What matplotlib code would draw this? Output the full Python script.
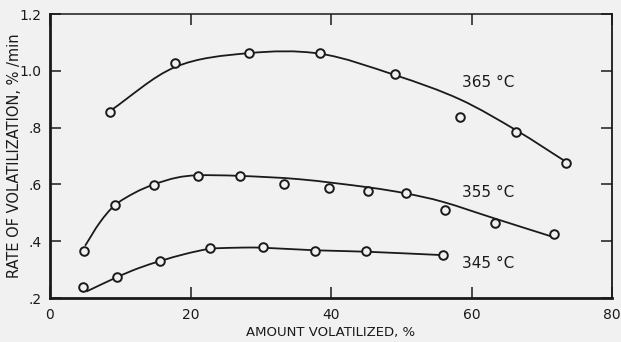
import matplotlib
matplotlib.use("Agg")
import matplotlib.pyplot as plt
from matplotlib.path import Path
from matplotlib.patches import PathPatch
import numpy as np

# Measured data points (amount volatilized %, rate %/min)
x_365 = [8.5, 17.8, 28.3, 38.5, 49.1, 58.3, 66.4, 73.5]
y_365 = [0.856, 1.029, 1.062, 1.061, 0.987, 0.837, 0.786, 0.677]

x_355 = [4.9, 9.3, 14.8, 21.1, 27.1, 33.3, 39.7, 45.2, 50.7, 56.2, 63.3, 71.8]
y_355 = [0.366, 0.527, 0.597, 0.629, 0.629, 0.601, 0.586, 0.577, 0.571, 0.509, 0.463, 0.427]

x_345 = [4.7, 9.5, 15.7, 22.8, 30.3, 37.7, 45.0, 55.9]
y_345 = [0.239, 0.273, 0.329, 0.375, 0.378, 0.366, 0.365, 0.351]

# Hand-drawn smooth curves: knots
cx_365 = [8.5, 17.8, 28.2, 38.5, 49.1, 58.3, 66.4, 73.3]
cy_365 = [0.858, 1.013, 1.062, 1.060, 0.985, 0.900, 0.790, 0.682]

cx_355 = [5.0, 7.1, 9.25, 12.1, 14.8, 18.0, 21.1, 27.0, 35.6, 45.2, 50.7, 56.0, 63.3, 71.6]
cy_355 = [0.384, 0.466, 0.527, 0.571, 0.600, 0.6235, 0.632, 0.630, 0.618, 0.590, 0.568, 0.538, 0.480, 0.415]

cx_345 = [5.2, 9.5, 12.6, 15.8, 19.4, 22.8, 26.5, 30.3, 37.7, 45.0, 55.9]
cy_345 = [0.223, 0.273, 0.305, 0.331, 0.356, 0.373, 0.377, 0.377, 0.368, 0.363, 0.351]

series_labels = ["365 °C", "355 °C", "345 °C"]
label_x = [58.6, 58.7, 58.7]
label_y = [0.958, 0.571, 0.322]

x_ticks = [0, 20, 40, 60, 80]
x_ticklabels = ["0", "20", "40", "60", "80"]
y_ticks = [0.2, 0.4, 0.6, 0.8, 1.0, 1.2]
y_ticklabels = [".2", ".4", ".6", ".8", "1.0", "1.2"]

bg = "#f1f1f1"
ink = "#1a1a1a"


def smooth_path(xs, ys):
    """Catmull-Rom curve through the knots, expressed as cubic Bezier segments."""
    p = np.column_stack([xs, ys]).astype(float)
    ext = np.vstack([2 * p[0] - p[1], p, 2 * p[-1] - p[-2]])
    verts = [p[0]]
    codes = [Path.MOVETO]
    for i in range(1, len(ext) - 2):
        p0, p1, p2, p3 = ext[i - 1], ext[i], ext[i + 1], ext[i + 2]
        verts += [p1 + (p2 - p0) / 6.0, p2 - (p3 - p1) / 6.0, p2]
        codes += [Path.CURVE4] * 3
    return Path(verts, codes)


fig = plt.figure(figsize=(6.21, 3.42), dpi=100, facecolor=bg)
ax = fig.add_axes([50 / 621, 44 / 342, 562 / 621, 284 / 342])
ax.set_facecolor(bg)

for cx, cy, px, py in [(cx_365, cy_365, x_365, y_365),
                       (cx_355, cy_355, x_355, y_355),
                       (cx_345, cy_345, x_345, y_345)]:
    ax.add_patch(PathPatch(smooth_path(cx, cy), facecolor="none",
                           edgecolor=ink, lw=1.3, zorder=2))
    ax.plot(px, py, linestyle="none", marker="o", markersize=6.2,
            markerfacecolor=bg, markeredgecolor=ink, markeredgewidth=1.4, zorder=3)

for t, lx, ly in zip(series_labels, label_x, label_y):
    ax.text(lx, ly, t, fontsize=11, color=ink, ha="left", va="center")

ax.set_xlim(0, 80)
ax.set_ylim(0.2, 1.2)
ax.set_xticks(x_ticks)
ax.set_xticklabels(x_ticklabels)
ax.set_yticks(y_ticks)
ax.set_yticklabels(y_ticklabels)
ax.tick_params(direction="in", length=8, width=1.1, top=True, right=True,
               labelsize=10, colors=ink, pad=6)
ax.tick_params(axis="x", pad=7)

for side, w in [("left", 2.0), ("bottom", 2.0), ("top", 1.1), ("right", 1.3)]:
    ax.spines[side].set_linewidth(w)
    ax.spines[side].set_color(ink)

ax.set_xlabel("AMOUNT VOLATILIZED, %", fontsize=9.5, color=ink)
ax.xaxis.set_label_coords(0.5, -0.098)
ax.set_ylabel("RATE OF VOLATILIZATION, % /min", fontsize=10.5, color=ink)
ax.yaxis.set_label_coords(-0.05, 0.5)

fig.savefig("out.png", dpi=100, facecolor=bg)
